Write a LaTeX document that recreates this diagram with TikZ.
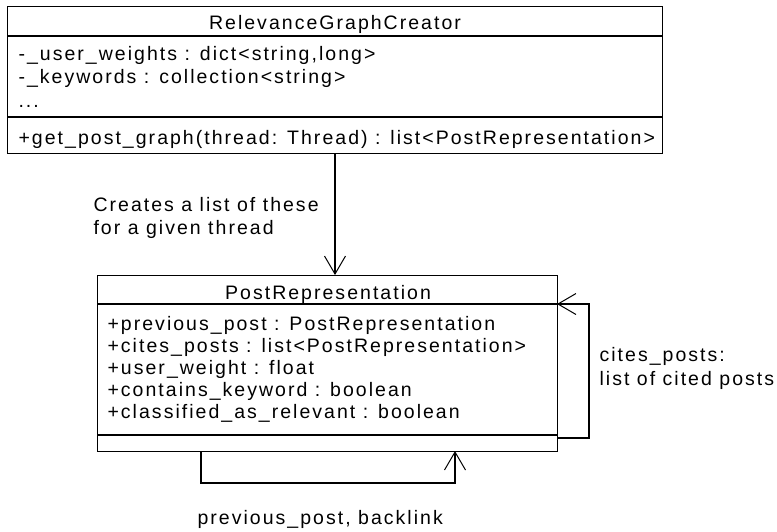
\documentclass[tikz,border=0pt]{standalone}
\usepackage{fontspec}
\setmainfont{Liberation Sans}[LetterSpace=10.4]
\usetikzlibrary{arrows.meta}
\begin{document}
\begin{tikzpicture}[x=1pt, y=-1pt, line width=1.1pt,
  classbox/.style={draw, rectangle, inner sep=0pt, anchor=north west},
  member/.style={inner sep=0pt, anchor=base west, font=\fontsize{19.5}{22}\selectfont},
  title/.style={inner sep=0pt, anchor=base, font=\fontsize{19.5}{22}\selectfont},
  note/.style={inner sep=0pt, anchor=base west, font=\fontsize{19.5}{22}\selectfont},
  link/.style={-{Straight Barb[length=18pt, width=21pt, line width=1pt]}}]
\useasboundingbox (0,0) rectangle (777,531);

% RelevanceGraphCreator class
\node[classbox, minimum width=655pt, minimum height=147pt] (rgc) at (7,6) {};
\draw (7,36) -- (662,36);
\draw (7,117) -- (662,117);
\node[title] (rgcname) at (335,29) {RelevanceGraphCreator};
\node[member] (rgca1) at (18,60) {-\_user\_weights : dict<string,long>};
\node[member] (rgca2) at (18,83) {-\_keywords : collection<string>};
\node[member] (rgca3) at (18,107) {...};
\node[member] (rgcm1) at (18,144) {+get\_post\_graph(thread: Thread) : list<PostRepresentation>};

% PostRepresentation class
\node[classbox, minimum width=460pt, minimum height=176pt] (pr) at (97,275) {};
\draw (97,304) -- (557,304);
\draw (97,435) -- (557,435);
\node[title] (prname) at (328,299) {PostRepresentation};
\node[member] (pra1) at (107,330) {+previous\_post : PostRepresentation};
\node[member] (pra2) at (107,352) {+cites\_posts : list<PostRepresentation>};
\node[member] (pra3) at (107,374) {+user\_weight : float};
\node[member] (pra4) at (107,396) {+contains\_keyword : boolean};
\node[member] (pra5) at (107,418) {+classified\_as\_relevant : boolean};

% creation link
\draw[link] (rgc.south -| 335,0) -- (pr.north -| 335,0);
\node[note] (creates1) at (93,211) {Creates a list of these};
\node[note] (creates2) at (93,234) {for a given thread};

% self references
\coordinate (citesout) at (557,438);
\coordinate (citesin) at (557,304);
\draw[link] (citesout) -- (589,438) -- (589,304) -- (citesin);
\node[note] (cites1) at (599,361) {cites\_posts:};
\node[note] (cites2) at (599,385) {list of cited posts};

\coordinate (prevout) at (201,451);
\coordinate (previn) at (455,451);
\draw[link] (prevout) -- (201,483) -- (455,483) -- (previn);
\node[note] (prev) at (197,524) {previous\_post, backlink};
\end{tikzpicture}
\end{document}
